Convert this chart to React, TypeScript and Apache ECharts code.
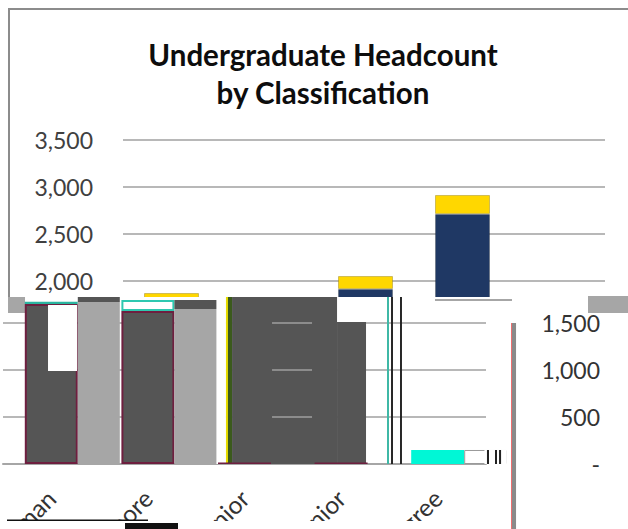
import React, { useEffect, useRef } from 'react';
import * as echarts from 'echarts';

// ---- data ----
const topCategories = ['Freshman', 'Sophomore', 'Junior', 'Senior', 'Non-Degree', ''];
const topNavy = [1640, 1700, 1600, 1915, 2713, null];
const topGold = [180, 172, 170, 138, 202, null];
const topTicks = [1500, 3500, 500];

const bottomCategories = ['Freshman', 'Sophomore', 'Junior', 'Senior', 'Non-Degree'];
const bottomMain = [1702, 1628, 15, 15, 149];
const bottomCap = [25, 117, null, null, null];
const bottomSide = [1723, 1649, null, null, 149];
const bottomSideCap = [54, 96, null, null, null];
const bottomTicks = [0, 1500, 500];

// glitch blocks in bottom-axis units: [catFrom, catTo, valFrom, valTo, color]
const glitchUnder: [number, number, number, number, string][] = [
  [2.205, 2.308, 0, 1777, '#ffffff'],
  [2.308, 2.329, 0, 1777, '#e6dc00'],
  [2.329, 2.371, 0, 1777, '#3b5a1c'],
  [2.371, 3.458, 0, 1777, '#555555'],
  [3.458, 3.758, 0, 1511, '#555555'],
  [2.785, 3.199, 1490, 1510, '#8c8c8c'],
  [2.785, 3.199, 990, 1010, '#8c8c8c'],
  [2.785, 3.199, 490, 510, '#8c8c8c'],
  [3.975, 3.996, 0, 1777, '#3fb8a6'],
  [4.017, 4.037, 0, 1777, '#222222'],
  [4.110, 4.130, 0, 1777, '#222222'],
  [5.259, 5.269, -700, 1500, '#f06a6a'],
  [5.269, 5.311, -700, 1500, '#8a8a8a'],
  [0.052, 0.228, 1606, 1777, '#a6a6a6'],
  [6.056, 6.600, 1606, 1787, '#a6a6a6'],
  [4.472, 5.269, 1734, 1755, '#a6a6a6'],
];
const glitchOver: [number, number, number, number, string][] = [
  [0.466, 0.766, 989, 1692, '#ffffff'],
  [4.984, 5.210, 0, 149, '#ffffff'],
  [5.010, 5.031, 0, 149, '#222222'],
  [5.093, 5.114, 0, 149, '#222222'],
  [5.135, 5.156, 0, 149, '#222222'],
];

const FONT = 'Lato';
const fmt = (v: number) => v.toLocaleString('en-US');

function rectItem(params: any, api: any) {
  const p0 = api.coord([api.value(0), api.value(3)]);
  const p1 = api.coord([api.value(1), api.value(2)]);
  return {
    type: 'rect',
    shape: { x: p0[0], y: p0[1], width: p1[0] - p0[0], height: p1[1] - p0[1] },
    style: { fill: api.visual('color') },
  };
}

const labelShadow = {
  textShadowColor: 'rgba(255,60,60,0.55)',
  textShadowOffsetX: -1,
  textShadowBlur: 0,
};

export default function App() {
  const ref = useRef<HTMLDivElement>(null);
  useEffect(() => {
    if (!ref.current) return;
    const chart = echarts.init(ref.current, undefined, { renderer: 'svg' });
    const mainStyles = [
      { color: '#555555', borderColor: '#6e1f3f', borderWidth: 2 },
      { color: '#555555', borderColor: '#6e1f3f', borderWidth: 2 },
      { color: '#6e1f3f' },
      { color: '#6e1f3f' },
      { color: '#00f7d6' },
    ];
    const capStyles = [
      { color: '#2bb5a0' },
      { color: '#ffffff', borderColor: '#2ec8b0', borderWidth: 2 },
      {}, {}, {},
    ];
    const sideStyles = [
      { color: '#a6a6a6' },
      { color: '#a6a6a6' },
      {}, {},
      { color: '#ffffff', borderColor: '#9a9a9a', borderWidth: 1 },
    ];
    const option: any = {
      animation: false,
      backgroundColor: '#ffffff',
      title: {
        text: 'Undergraduate Headcount\nby Classification',
        left: 323,
        top: 35,
        padding: 0,
        textAlign: 'center',
        textStyle: {
          fontFamily: FONT,
          fontWeight: 'bold',
          fontSize: 29.5,
          lineHeight: 38,
          color: '#0d0d0d',
        },
      },
      grid: [
        { left: 26, width: 582, top: 140, height: 188, outerBoundsMode: 'none', containLabel: false },
        { left: 123, width: 482, top: 140, height: 188, outerBoundsMode: 'none', containLabel: false },
        { left: 3, width: 483, top: 323, height: 141, outerBoundsMode: 'none', containLabel: false },
      ],
      xAxis: [
        { type: 'category', gridIndex: 0, data: topCategories, show: false },
        { type: 'category', gridIndex: 1, data: [''], show: false },
        {
          type: 'category',
          gridIndex: 2,
          data: bottomCategories,
          z: 6,
          axisLine: { show: true, lineStyle: { color: '#a6a6a6', width: 2 } },
          axisTick: { show: false },
          axisLabel: {
            interval: 0,
            rotate: 45,
            margin: 30,
            fontFamily: FONT,
            fontSize: 24.5,
            color: '#333333',
            ...labelShadow,
          },
        },
        { type: 'value', gridIndex: 2, min: 0, max: 5, show: false },
      ],
      yAxis: [
        { type: 'value', gridIndex: 0, min: topTicks[0], max: topTicks[1], interval: topTicks[2], show: false },
        {
          type: 'value',
          gridIndex: 1,
          min: topTicks[0],
          max: topTicks[1],
          interval: topTicks[2],
          axisLine: { show: false },
          axisTick: { show: false },
          axisLabel: {
            margin: 30,
            fontFamily: FONT,
            fontSize: 23,
            color: '#404040',
            formatter: fmt,
          },
          splitLine: { lineStyle: { color: '#a0a0a0', width: 1.5 } },
        },
        {
          type: 'value',
          gridIndex: 2,
          position: 'right',
          min: bottomTicks[0],
          max: bottomTicks[1],
          interval: bottomTicks[2],
          z: 6,
          axisLine: { show: false },
          axisTick: { show: false },
          axisLabel: {
            align: 'right',
            margin: 114,
            fontFamily: FONT,
            fontSize: 23,
            color: '#333333',
            formatter: (v: number) => (v === 0 ? '-' : fmt(v)),
            ...labelShadow,
          },
          splitLine: { lineStyle: { color: '#a0a0a0', width: 1.5 } },
        },
      ],
      series: [
        {
          type: 'bar', name: 'top-navy', xAxisIndex: 0, yAxisIndex: 0, stack: 'top',
          barWidth: 55, data: topNavy, z: 2,
          itemStyle: { color: '#1f3864', borderColor: 'rgba(0,0,0,0.2)', borderWidth: 1 },
        },
        {
          type: 'bar', name: 'top-gold', xAxisIndex: 0, yAxisIndex: 0, stack: 'top',
          barWidth: 55, data: topGold, z: 2,
          itemStyle: { color: '#ffd700', borderColor: 'rgba(120,100,0,0.35)', borderWidth: 1 },
        },
        {
          type: 'custom', name: 'glitch-under', xAxisIndex: 3, yAxisIndex: 2, z: 9,
          encode: { x: [0, 1], y: [2, 3] },
          renderItem: rectItem,
          data: glitchUnder.map((g) => ({ value: [g[0], g[1], g[2], g[3]], itemStyle: { color: g[4] } })),
        },
        {
          type: 'bar', name: 'pad', xAxisIndex: 2, yAxisIndex: 2, stack: 'pad',
          barWidth: 42, barGap: '0%', data: [null, null, null, null, null], z: 10, clip: false,
        },
        {
          type: 'bar', name: 'main', xAxisIndex: 2, yAxisIndex: 2, stack: 'main',
          barWidth: 53, barGap: '0%', z: 10, clip: false,
          data: bottomMain.map((v, i) => ({ value: v, itemStyle: mainStyles[i] })),
        },
        {
          type: 'bar', name: 'main-cap', xAxisIndex: 2, yAxisIndex: 2, stack: 'main',
          barWidth: 53, barGap: '0%', z: 10, clip: false,
          data: bottomCap.map((v, i) => ({ value: v, itemStyle: capStyles[i] })),
        },
        {
          type: 'bar', name: 'side', xAxisIndex: 2, yAxisIndex: 2, stack: 'side',
          barWidth: 42, barGap: '0%', z: 10, clip: false,
          data: bottomSide.map((v, i) => ({ value: v, itemStyle: sideStyles[i] })),
        },
        {
          type: 'bar', name: 'side-cap', xAxisIndex: 2, yAxisIndex: 2, stack: 'side',
          barWidth: 42, barGap: '0%', z: 10, clip: false,
          itemStyle: { color: '#555555' },
          data: bottomSideCap,
        },
        {
          type: 'custom', name: 'glitch-over', xAxisIndex: 3, yAxisIndex: 2, z: 11,
          encode: { x: [0, 1], y: [2, 3] },
          renderItem: rectItem,
          data: glitchOver.map((g) => ({ value: [g[0], g[1], g[2], g[3]], itemStyle: { color: g[4] } })),
        },
      ],
      graphic: {
        elements: [
          {
            type: 'polyline', z: 1, silent: true,
            shape: { points: [[9, 300], [9, 9], [640, 9]] },
            style: { stroke: '#8c8c8c', lineWidth: 2, fill: null },
          },
          {
            type: 'rect', z: 5, silent: true,
            shape: { x: 0, y: 297, width: 628, height: 232 },
            style: { fill: '#ffffff' },
          },
          {
            type: 'rect', z: 20, silent: true,
            shape: { x: 0, y: 521, width: 505, height: 10 },
            style: { fill: '#ffffff' },
          },
          {
            type: 'rect', z: 21, silent: true,
            shape: { x: 7, y: 519.5, width: 141, height: 1.5 },
            style: { fill: '#111111' },
          },
          {
            type: 'rect', z: 21, silent: true,
            shape: { x: 125, y: 523, width: 53, height: 6 },
            style: { fill: '#111111' },
          },
        ],
      },
    };
    chart.setOption(option);
    return () => chart.dispose();
  }, []);
  return (
    <div
      ref={ref}
      style={{ position: 'fixed', left: 0, top: 0, width: 628, height: 529, background: '#ffffff' }}
    />
  );
}
